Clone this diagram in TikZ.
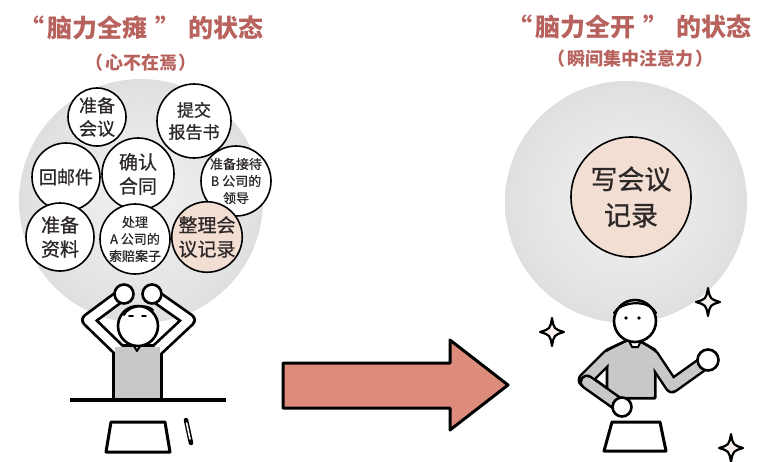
\documentclass[tikz,border=0pt]{standalone}
\usepackage{fontspec}
\newfontfamily\cjk{Noto Sans CJK SC}
\newfontfamily\cjkm[FakeBold=0.7]{Noto Sans CJK SC}
\newcommand\cjkfs[2]{\cjkm\fontsize{#1}{#2}\selectfont}

\definecolor{titlered}{RGB}{184,98,94}
\definecolor{inkdark}{RGB}{45,40,40}
\definecolor{peach}{RGB}{242,222,210}
\definecolor{salmon}{RGB}{221,140,124}
\definecolor{bodygray}{RGB}{200,200,200}
\definecolor{sparklefill}{RGB}{248,240,236}
\definecolor{haloin}{RGB}{242,242,242}
\definecolor{halomid}{RGB}{226,226,226}
\definecolor{haloout}{RGB}{198,198,198}
\definecolor{haloedge}{RGB}{212,212,212}

\pgfdeclareradialshading{halo}{\pgfpoint{0bp}{0bp}}{%
  color(0bp)=(haloin); color(22bp)=(halomid); color(46bp)=(haloout); color(50bp)=(haloedge)}

\tikzset{
  titletext/.style={text=titlered, font=\cjk\fontsize{25}{28}\selectfont\bfseries},
  subtext/.style={text=titlered, font=\cjk\fontsize{18}{20}\selectfont\bfseries},
  bubble/.style={circle, draw=black, line width=1.6pt, fill=white, inner sep=0pt,
    align=center, text=inkdark},
  outline/.style={line width=2.6pt, line join=round, line cap=round},
  sparkle/.pic={
    \draw[fill=sparklefill, line width=2.2pt, line join=round]
      (0,-14) .. controls (2,-3) .. (12,0) .. controls (2,3) .. (0,14)
      .. controls (-2,3) .. (-12,0) .. controls (-2,-3) .. cycle;}
}

\begin{document}
\begin{tikzpicture}[x=1pt, y=-1pt]
\useasboundingbox (0,0) rectangle (759,461);

% headings
\node[titletext] (ltitle) at (141,28) {“\hspace{3pt}脑力全瘫\hspace{8pt}”\hspace{8pt}的状态};
\node[subtext]   (lsub)   at (141,63) {（\hspace{2pt}心不在焉\hspace{2pt}）};
\node[titletext] (rtitle) at (629,27) {“\hspace{3pt}脑力全开\hspace{8pt}”\hspace{8pt}的状态};
\node[subtext]   (rsub)   at (630,59) {（\hspace{2pt}瞬间集中注意力\hspace{2pt}）};

% halos of attention
\coordinate (lhalo) at (141,201);
\coordinate (rhalo) at (626,202);
\shade[shading=halo] (lhalo) circle (122);
\shade[shading=halo] (rhalo) circle (121);

% scattered tasks
\node[bubble, minimum size=58pt, font=\cjkfs{18}{23}] (meet)     at (97,117)  {准备\\会议};
\node[bubble, minimum size=74pt, font=\cjkfs{17}{22}] (report)   at (194,121) {提交\\报告书};
\node[bubble, minimum size=68pt, font=\cjkfs{18}{22}] (mail)     at (66,177)  {回邮件};
\node[bubble, minimum size=70pt, font=\cjkfs{13}{17}] (guestb)   at (236,181) {准备接待\\B 公司的\\领导};
\node[bubble, minimum size=72pt, font=\cjkfs{19}{24}] (contract) at (138,174) {确认\\合同};
\node[bubble, minimum size=68pt, font=\cjkfs{19}{24}] (prep)     at (60,237)  {准备\\资料};
\node[bubble, minimum size=70pt, font=\cjkfs{13}{17}] (claima)   at (135,239) {处理\\A 公司的\\索赔案子};
\node[bubble, minimum size=68pt, fill=peach, font=\cjkfs{19}{24}] (notes) at (207,237) {整理会\\议记录};

% the one task in focus
\node[bubble, minimum size=120pt, fill=peach, font=\cjkfs{27}{36}] (focus) at (631,197) {写会议\\记录};

% --- distracted worker ---
\draw[outline, line width=14pt] (119,350) -- (88,320) -- (123,294);
\draw[outline, line width=14pt] (157,350) -- (189,320) -- (152,294);
\draw[line width=3pt, line join=round] (113,345) rectangle (161,400);
\draw[white, line width=8.5pt, line join=round, line cap=round] (119,350) -- (88,320) -- (123,294);
\draw[white, line width=8.5pt, line join=round, line cap=round] (157,350) -- (189,320) -- (152,294);
\fill[bodygray] (114.5,346.5) rectangle (159.5,398.5);
\draw[outline, fill=white, line width=2pt] (132,343) -- (137,351) -- (142,343);
\node[circle, draw, fill=white, line width=2.6pt, minimum size=40pt, inner sep=0pt] (lhead) at (138,326) {};
\draw[line width=2pt, line cap=round] (124,315) .. controls (128,306) and (146,303) .. (153,310);
\draw[line width=1.8pt, line cap=round] (129,316) -- (133,316) (142,316) -- (146,316);
\node[circle, draw, fill=white, line width=2.6pt, minimum size=19pt, inner sep=0pt] (lhandl) at (124,294) {};
\node[circle, draw, fill=white, line width=2.6pt, minimum size=19pt, inner sep=0pt] (lhandr) at (152,294) {};
\draw[line width=3.5pt] (70,400) -- (226,400);
\draw[outline, line width=3pt, fill=white] (111,422) -- (165,422) -- (170,452) -- (106,452) -- cycle;
\draw[line width=4.5pt, line cap=round] (186,420) -- (191,443);
\draw[white, line width=1.6pt, line cap=round] (186.6,423) -- (190,439);

% --- transition arrow ---
\draw[fill=salmon, line width=3pt, line join=round]
  (283,363) -- (450,363) -- (450,340) -- (508,385) -- (450,430) -- (450,408) -- (283,408) -- cycle;

% --- focused worker ---
\draw[outline, line width=15pt] (609,356) -- (585,380) -- (621,406);
\draw[outline, line width=15pt] (652,356) -- (672,386) -- (707,361);
\draw[line width=3pt, line join=round] (628,340) -- (607,350) -- (607,398) -- (655,398) -- (655,350) -- (638,340) -- cycle;
\draw[bodygray, line width=10pt, line join=round, line cap=round] (609,356) -- (585,380) -- (621,406);
\draw[bodygray, line width=10pt, line join=round, line cap=round] (652,356) -- (672,386) -- (707,361);
\fill[bodygray] (628.5,341.5) -- (608.5,351) -- (608.5,396.5) -- (653.5,396.5) -- (653.5,351) -- (637.5,341.5) -- cycle;
\draw[line width=15pt, line cap=round] (587,382) -- (621,406);
\draw[bodygray, line width=10pt, line cap=round] (587,382) -- (621,406);
\draw[outline, fill=white, line width=2pt] (628,339) -- (632,347) -- (638,347) -- (642,339);
\node[circle, draw, fill=white, line width=2.6pt, minimum size=42pt, inner sep=0pt] (rhead) at (635,321) {};
\draw[line width=2.2pt, line cap=round] (614,313) .. controls (620,302) and (648,298) .. (656,313);
\fill (626,318) circle (1.9) (639,318) circle (1.9);
\node[circle, draw, fill=white, line width=2.6pt, minimum size=19pt, inner sep=0pt] (rhandl) at (622,407) {};
\node[circle, draw, fill=white, line width=2.6pt, minimum size=21pt, inner sep=0pt] (rhandr) at (708,360) {};
\draw[outline, line width=3pt, fill=white] (612,422) -- (660,422) -- (666,451) -- (604,451) -- cycle;

% sparkles of concentration
\pic at (552,332) {sparkle};
\pic at (708,302) {sparkle};
\pic at (731,448) {sparkle};
\end{tikzpicture}
\end{document}
